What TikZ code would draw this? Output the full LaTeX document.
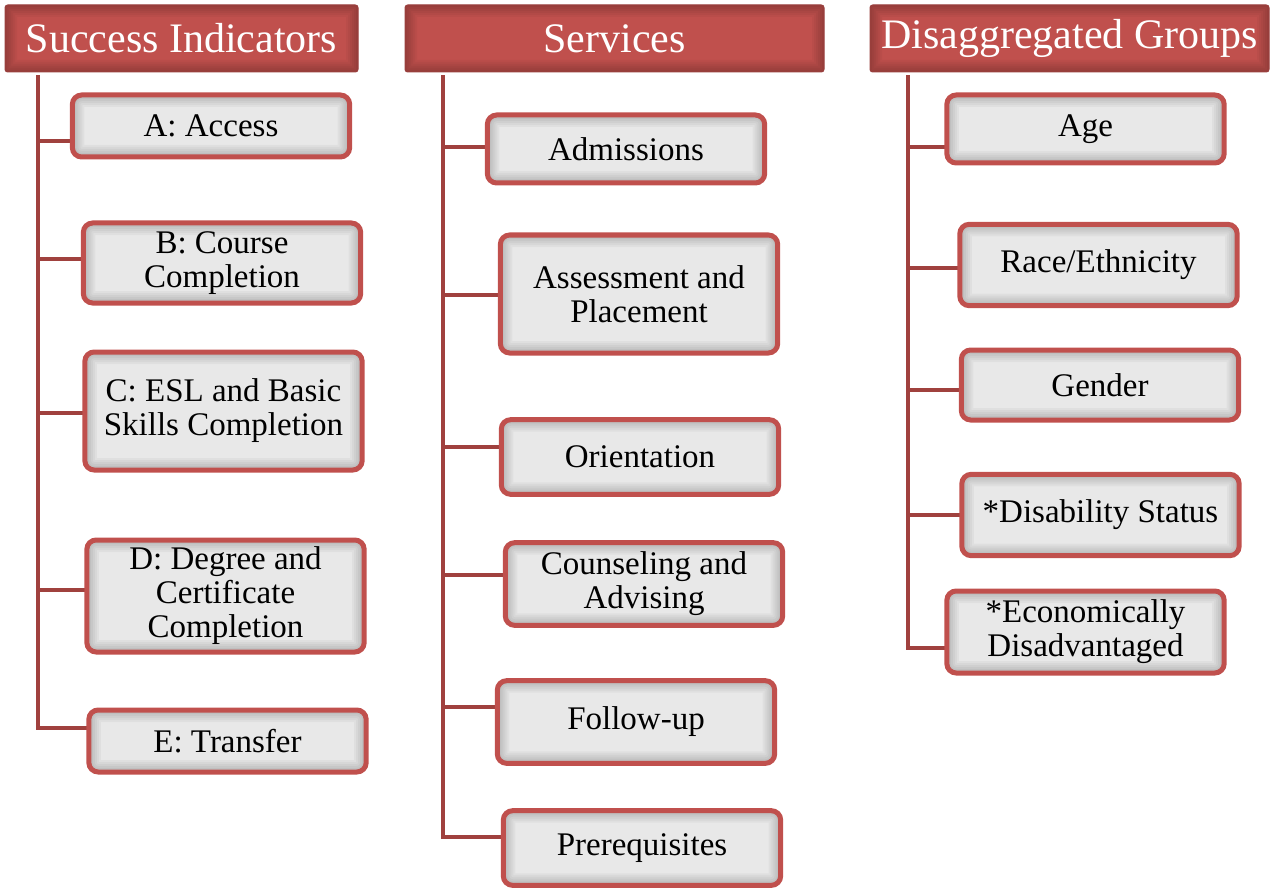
\documentclass[tikz,border=0pt]{standalone}
\usepackage{fontspec}
\setmainfont{Liberation Serif}
\usetikzlibrary{calc,backgrounds}

\definecolor{headred}{HTML}{C0504D}
\definecolor{stemred}{HTML}{A0413E}
\definecolor{boxgray}{HTML}{E8E8E8}

\tikzset{
  innershade/.style={path picture={
      \foreach \w in {18pt,15pt,12pt,9pt,6pt,3pt}
        \draw[line width=\w, black, opacity=0.035, rounded corners=#1]
          (path picture bounding box.south west) rectangle (path picture bounding box.north east);}},
  headbox/.style={fill=headred, draw=headred!80!black, line width=0.75pt, rounded corners=2pt,
    innershade=2pt, text=white, inner sep=0pt, minimum height=50.25pt,
    font=\fontsize{31.5}{36}\selectfont},
  itembox/.style={fill=boxgray, draw=headred, line width=3.75pt, rounded corners=7pt,
    innershade=7pt, text=black, align=center, inner sep=0pt, minimum width=208pt,
    font=\fontsize{24.75}{25.5}\selectfont},
  stem/.style={draw=stemred, line width=3pt, line cap=rect}
}

\begin{document}
\begin{tikzpicture}[x=0.75pt, y=-0.75pt]
  \useasboundingbox (0,0) rectangle (1271,888);

  % column headers
  \node[headbox, minimum width=264.75pt] (indicators) at (181.5,38.5) {Success Indicators};
  \node[headbox, minimum width=314.25pt] (services) at (614.5,38.5) {Services};
  \node[headbox, minimum width=299.25pt] (groups) at (1069.5,38.5) {Disaggregated Groups};

  \coordinate (t1) at ($(indicators.south west)+(33,5)$);
  \coordinate (t2) at ($(services.south west)+(38,5)$);
  \coordinate (t3) at ($(groups.south west)+(38,5)$);

  % success indicators
  \node[itembox, minimum height=46.5pt] (access) at (211,126) {A: Access};
  \node[itembox, minimum height=60pt] (course) at (222,263) {B: Course\\Completion};
  \node[itembox, minimum height=88.5pt] (esl) at (223.5,411) {C: ESL and Basic\\Skills Completion};
  \node[itembox, minimum height=84pt] (degree) at (225.5,596) {D: Degree and\\Certificate\\Completion};
  \node[itembox, minimum height=46.5pt] (transfer) at (227.5,741) {E: Transfer};

  % services
  \node[itembox, minimum height=51pt] (admissions) at (626,149) {Admissions};
  \node[itembox, minimum height=88.5pt] (assessment) at (639,294) {Assessment and\\Placement};
  \node[itembox, minimum height=56pt] (orientation) at (640,457) {Orientation};
  \node[itembox, minimum height=62pt] (counseling) at (644,584) {Counseling and\\Advising};
  \node[itembox, minimum height=62pt] (followup) at (636,722) {Follow-up};
  \node[itembox, minimum height=56pt] (prereq) at (642,848) {Prerequisites};

  % disaggregated groups
  \node[itembox, minimum height=51pt] (age) at (1085.5,129) {Age};
  \node[itembox, minimum height=61pt] (race) at (1098.5,265) {Race/Ethnicity};
  \node[itembox, minimum height=52.5pt] (gender) at (1100,385) {Gender};
  \node[itembox, minimum height=61pt] (disability) at (1100.5,515) {*Disability Status};
  \node[itembox, minimum height=61.5pt] (econ) at (1085.5,632) {*Economically\\Disadvantaged};

  \begin{scope}[on background layer]
    \foreach \n/\dy in {access/15, course/-4, esl/2, degree/-6, transfer/-13}
      \draw[stem] (\n.west) ++(0,\dy) coordinate (b-\n) -- (b-\n -| t1);
    \draw[stem] (t1) -- (b-transfer -| t1);

    \foreach \n/\dy in {admissions/-2, assessment/1, orientation/-10, counseling/-9, followup/-15, prereq/-11}
      \draw[stem] (\n.west) ++(0,\dy) coordinate (b-\n) -- (b-\n -| t2);
    \draw[stem] (t2) -- (b-prereq -| t2);

    \foreach \n/\dy in {age/18, race/3, gender/5, disability/0, econ/16}
      \draw[stem] (\n.west) ++(0,\dy) coordinate (b-\n) -- (b-\n -| t3);
    \draw[stem] (t3) -- (b-econ -| t3);
  \end{scope}
\end{tikzpicture}
\end{document}
